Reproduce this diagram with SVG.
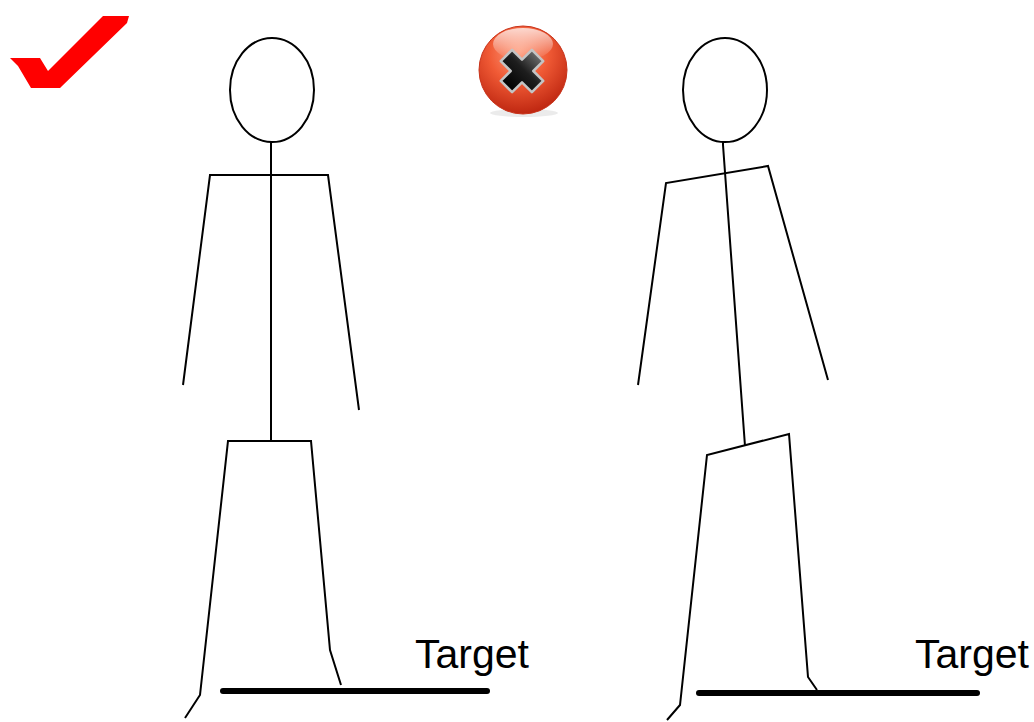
<svg xmlns="http://www.w3.org/2000/svg" width="1034" height="722" viewBox="0 0 1034 722">
  <defs>
    <radialGradient id="ballFill" cx="0.45" cy="0.3" r="0.75">
      <stop offset="0" stop-color="#ff9a7a"/>
      <stop offset="0.45" stop-color="#f05a35"/>
      <stop offset="1" stop-color="#b8200c"/>
    </radialGradient>
    <linearGradient id="ballShine" x1="0" y1="0" x2="0" y2="1">
      <stop offset="0" stop-color="#ffffff" stop-opacity="0.75"/>
      <stop offset="1" stop-color="#ffffff" stop-opacity="0"/>
    </linearGradient>
    <linearGradient id="crossFill" x1="0" y1="0" x2="0" y2="1">
      <stop offset="0" stop-color="#6a6a6a"/>
      <stop offset="0.45" stop-color="#1e1e1e"/>
      <stop offset="1" stop-color="#000000"/>
    </linearGradient>
  </defs>
  <style>
    .body { fill: none; stroke: #000; stroke-width: 2; stroke-linejoin: miter; }
    .floor { stroke: #000; stroke-width: 6; stroke-linecap: round; }
    .label { font-family: "Liberation Sans", Arial, sans-serif; font-size: 41px; fill: #000; }
  </style>

  <rect width="1034" height="722" fill="#ffffff"/>

  <!-- red tick: correct posture -->
  <g id="tick">
    <polygon points="10,58 40,58 48,71 103,16 129,16 127,23 60,88 31,88 18,66" fill="#ff0000"/>
  </g>

  <!-- red ball with black cross: wrong posture -->
  <g id="cross-badge">
    <ellipse cx="524" cy="113" rx="34" ry="4" fill="#000" opacity="0.08"/>
    <circle cx="523" cy="70" r="44" fill="url(#ballFill)" stroke="#c8331a" stroke-width="1"/>
    <ellipse cx="523" cy="44" rx="30" ry="16" fill="url(#ballShine)"/>
    <polygon transform="translate(522,71) rotate(45)"
             points="-8,-22 8,-22 8,-8 22,-8 22,8 8,8 8,22 -8,22 -8,8 -22,8 -22,-8 -8,-8"
             fill="url(#crossFill)" stroke="#c4c4c4" stroke-width="2.5" stroke-linejoin="round"/>
  </g>

  <!-- upright stick figure -->
  <g id="figure-upright">
    <ellipse class="body" cx="272" cy="90" rx="42" ry="52"/>
    <line class="body" x1="271" y1="142" x2="271" y2="441"/>
    <polyline class="body" points="183,385 210,175 328,175 359,410"/>
    <polyline class="body" points="185,718 200,695 228,441 311,441 330,650 341,685"/>
  </g>

  <!-- leaning stick figure -->
  <g id="figure-leaning">
    <ellipse class="body" cx="725" cy="90" rx="42" ry="52"/>
    <polyline class="body" points="723,142 723,145 745,446"/>
    <polyline class="body" points="638,385 666,183 768,166 828,380"/>
    <polyline class="body" points="667,720 680,705 707,455 789,434 808,677 817,690"/>
  </g>

  <!-- targets -->
  <g id="target-left">
    <line class="floor" x1="223" y1="691" x2="487" y2="691"/>
    <text class="label" x="415" y="668">Target</text>
  </g>
  <g id="target-right">
    <line class="floor" x1="699" y1="693" x2="977" y2="693"/>
    <text class="label" x="915" y="668">Target</text>
  </g>
</svg>
